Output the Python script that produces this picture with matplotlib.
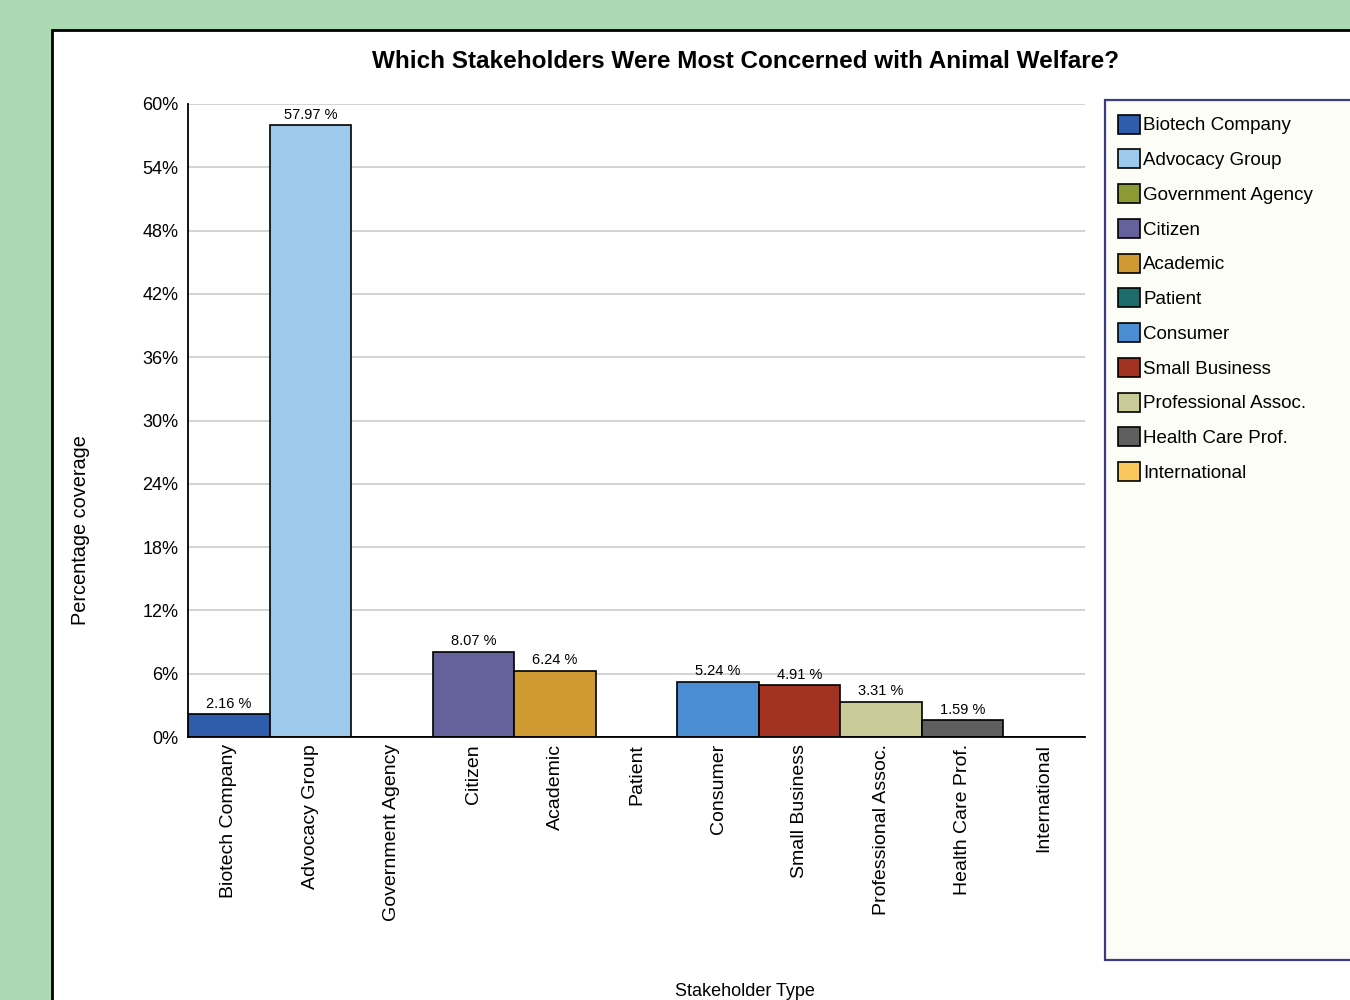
import numpy as np
import matplotlib
matplotlib.use("Agg")
import matplotlib.pyplot as plt
from matplotlib.patches import Rectangle

plt.rcParams['font.family'] = ['Liberation Sans', 'DejaVu Sans']

# stakeholder categories and share of coverage (%)
categories = ["Biotech Company", "Advocacy Group", "Government Agency", "Citizen",
              "Academic", "Patient", "Consumer", "Small Business",
              "Professional Assoc.", "Health Care Prof.", "International"]
coverage = [2.16, 57.97, 0.0, 8.07, 6.24, 0.0, 5.24, 4.91, 3.31, 1.59, 0.0]
colors = ["#2f5dab", "#9dc9ec", "#8b9a32", "#64619b", "#cf9a31", "#1d6b6a",
          "#4a8dd3", "#a23222", "#c9cc99", "#5f5f5f", "#f9c75a"]
yticks = np.arange(0, 61, 6)

fig = plt.figure(figsize=(13.5, 10), dpi=100)
fig.patch.set_facecolor("#abd9b2")

# white panel the chart sits on
fig.patches.append(Rectangle((0.0385, -0.01), 1.0, 0.98, transform=fig.transFigure,
                             facecolor="white", edgecolor="black", linewidth=2,
                             zorder=-3))
# legend box background
fig.patches.append(Rectangle((0.8185, 0.04), 0.3, 0.86, transform=fig.transFigure,
                             facecolor="#fdfdf8", edgecolor="#3b3b82", linewidth=1.6,
                             zorder=-2))

ax = fig.add_axes([0.1393, 0.263, 0.6644, 0.633])
ax.set_facecolor("white")
x = np.arange(len(categories))
bars = ax.bar(x, coverage, width=1.0, color=colors, edgecolor="black",
              linewidth=1.2, zorder=3)

for xi, v in zip(x, coverage):
    if v > 0:
        ax.text(xi, v + 0.35, f"{v:.2f} %", ha="center", va="bottom",
                fontsize=10.5, zorder=4)

ax.set_xlim(-0.5, len(categories) - 0.5)
ax.set_ylim(0, 60)
ax.set_yticks(yticks)
ax.set_yticklabels([f"{t}%" for t in yticks], fontsize=13)
ax.set_xticks(x)
ax.set_xticklabels(categories, rotation=90, fontsize=14, va="top")
ax.tick_params(axis="both", length=0)
ax.tick_params(axis="y", pad=7)
ax.tick_params(axis="x", pad=5)
ax.yaxis.grid(True, color="#c8c8c8", linewidth=1.1, zorder=0)
ax.set_axisbelow(True)
for s in ["top", "right"]:
    ax.spines[s].set_visible(False)
for s in ["left", "bottom"]:
    ax.spines[s].set_linewidth(1.3)
    ax.spines[s].set_zorder(5)

fig.text(0.552, 0.938, "Which Stakeholders Were Most Concerned with Animal Welfare?",
         ha="center", va="center", fontsize=17.5, fontweight="bold")
fig.text(0.06, 0.47, "Percentage coverage", rotation=90, ha="center",
         va="center", fontsize=14.3)
fig.text(0.552, 0.008, "Stakeholder Type", ha="center", va="center", fontsize=13)

leg = fig.legend(bars, categories, loc="upper left",
                 bbox_to_anchor=(0.8225, 0.893), frameon=False, fontsize=13.5,
                 handlelength=1.2, handleheight=1.2, handletextpad=0.15,
                 labelspacing=0.79, borderaxespad=0)
leg.set_zorder(6)

fig.savefig("out.png", dpi=100, facecolor=fig.get_facecolor())
